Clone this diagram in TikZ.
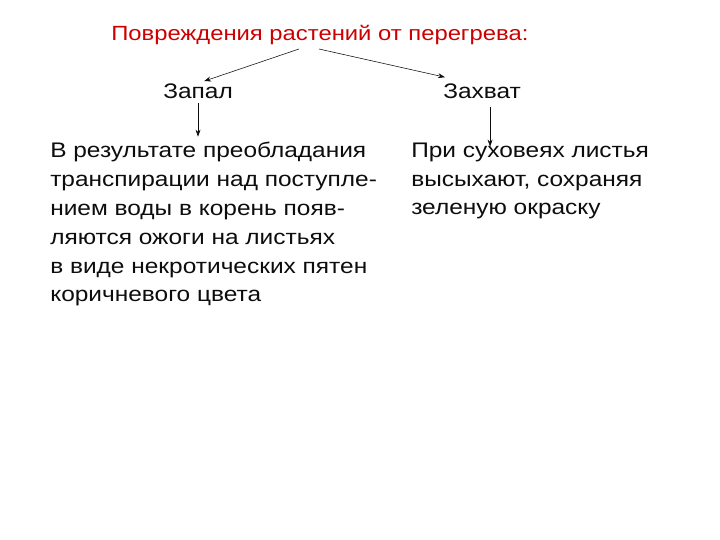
\documentclass[tikz,border=0pt]{standalone}
\usepackage{fontspec}
\setmainfont{Liberation Sans}[FakeStretch=1.16]
\usepackage{tikz}
\usetikzlibrary{arrows.meta, positioning, calc}
\definecolor{titleRed}{RGB}{204,0,0}
\definecolor{mainBlack}{gray}{0.05}

\begin{document}
\begin{tikzpicture}[>={Stealth[length=5pt,width=3.5pt]},
    titletext/.style={anchor=base west, inner sep=0pt, titleRed, font=\fontsize{14.6}{18}\selectfont},
    headtext/.style={anchor=base west, inner sep=0pt, mainBlack, font=\fontsize{15}{20.6}\selectfont},
    bodytext/.style={anchor=base west, inner sep=0pt, align=left, mainBlack, font=\fontsize{15}{20.6}\selectfont}]
    \useasboundingbox (0,0) rectangle (18,13.5);

    \node[titletext] (title) at (2.775,12.475) {Повреждения растений от перегрева:};
    \coordinate (s1) at (7.475,12.275);
    \coordinate (s2) at (7.975,12.275);

    \node[headtext] (zapal) at (4.075,11.025) {Запал};
    \node[headtext] (zahvat) at (11.075,11.025) {Захват};

    % base anchor sits on the last line
    \node[bodytext] (burn) at (1.25,5.95) {В результате преобладания\\транспирации над поступле-\\нием воды в корень появ-\\ляются ожоги на листьях\\в виде некротических пятен\\коричневого цвета};
    \node[bodytext] (dry) at (10.275,8.125) {При суховеях листья\\высыхают, сохраняя\\зеленую окраску};

    % Arrows
    \draw[->, mainBlack] (s1) -- ($(zapal.north)+(0.15,0.07)$);
    \draw[->, mainBlack] (s2) -- ($(zahvat.north west)+(0.05,0.17)$);
    \draw[->, mainBlack] ($(zapal.south)+(0,-0.08)$) -- ($(zapal.south)+(0,-0.93)$);
    \draw[->, mainBlack] ($(zahvat.south)+(0.2,-0.2)$) -- ($(zahvat.south)+(0.2,-1.18)$);
\end{tikzpicture}
\end{document}
